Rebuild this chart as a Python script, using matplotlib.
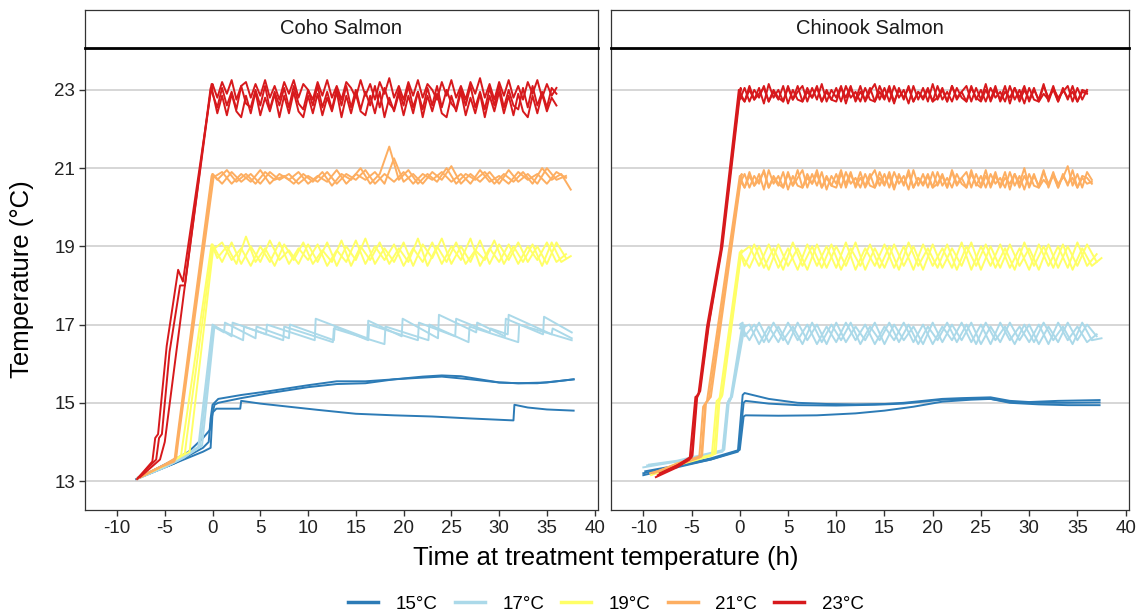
import matplotlib
matplotlib.use('Agg')
import matplotlib.pyplot as plt
from matplotlib.lines import Line2D

plt.rcParams['font.family'] = ['Liberation Sans', 'DejaVu Sans']

temps = ['15°C', '17°C', '19°C', '21°C', '23°C']
colors = ['#2c7bb6', '#abd9e9', '#ffff66', '#fdae61', '#d7191c']
species = ['Coho Salmon', 'Chinook Salmon']
yticks = [13, 15, 17, 19, 21, 23]
xticks = [-10, -5, 0, 5, 10, 15, 20, 25, 30, 35, 40]

# logging times on the plateau (h)
grid_a = [0, 1, 2, 3, 4, 5, 6, 7, 8, 9, 10, 11, 12, 13, 14, 15, 16, 17, 18, 19,
          20, 21, 22, 23, 24, 25, 26, 27, 28, 29, 30, 31, 32, 33, 34, 35, 36, 37]
grid_b = [0.5, 1.5, 2.5, 3.5, 4.5, 5.5, 6.5, 7.5, 8.5, 9.5, 10.5, 11.5, 12.5, 13.5,
          14.5, 15.5, 16.5, 17.5, 18.5, 19.5, 20.5, 21.5, 22.5, 23.5, 24.5, 25.5,
          26.5, 27.5, 28.5, 29.5, 30.5, 31.5, 32.5, 33.5, 34.5, 35.5, 36.5, 37.5]
grid_h = [0, 0.5, 1, 1.5, 2, 2.5, 3, 3.5, 4, 4.5, 5, 5.5, 6, 6.5, 7, 7.5, 8, 8.5, 9, 9.5,
          10, 10.5, 11, 11.5, 12, 12.5, 13, 13.5, 14, 14.5, 15, 15.5, 16, 16.5, 17, 17.5,
          18, 18.5, 19, 19.5, 20, 20.5, 21, 21.5, 22, 22.5, 23, 23.5, 24, 24.5, 25, 25.5,
          26, 26.5, 27, 27.5, 28, 28.5, 29, 29.5, 30, 30.5, 31, 31.5, 32, 32.5, 33, 33.5,
          34, 34.5, 35, 35.5, 36, 36.5, 37]

# ---------------- Coho ----------------
coho_15_t = [[-8.0, -6, -4, -2.5, -1.0, -0.4, -0.2, 0.0, 0.6, 3, 6, 10, 13, 16, 19, 22, 24, 26, 28, 30, 32, 34, 36, 37.8],
             [-7.8, -6, -4, -2.5, -1.0, -0.3, -0.1, 0.2, 0.6, 3, 6, 10, 13, 16, 19, 21, 24, 27, 30, 32, 35, 37.8],
             [-7.5, -5.5, -3.5, -2.0, -1.0, -0.2, 0.0, 0.4, 2.9, 3.0, 5, 8, 11, 15, 19, 23, 27, 31.5, 31.6, 33, 35, 37.8]]
coho_15_v = [[13.05, 13.25, 13.45, 13.65, 13.85, 14.0, 14.6, 14.95, 15.1, 15.2, 15.3, 15.45, 15.55, 15.55, 15.6, 15.67, 15.7, 15.68, 15.6, 15.52, 15.5, 15.5, 15.55, 15.6],
             [13.08, 13.3, 13.55, 13.75, 14.1, 14.3, 14.6, 14.95, 15.0, 15.12, 15.25, 15.4, 15.48, 15.5, 15.6, 15.63, 15.67, 15.6, 15.52, 15.5, 15.52, 15.6],
             [13.1, 13.3, 13.5, 13.65, 13.75, 13.85, 14.75, 14.85, 14.85, 15.05, 14.98, 14.9, 14.82, 14.72, 14.68, 14.65, 14.6, 14.55, 14.95, 14.88, 14.83, 14.8]]

coho_17_t = [[-7.9, -5, -3, -1.5, 0.0, 2.0, 2.1, 5.6, 5.7, 10.7, 10.8, 16.2, 16.3, 19.8, 19.9, 23.6, 23.7, 27.6, 27.7, 30.6, 30.7, 34.6, 34.7, 37.6],
             [-7.8, -5, -3, -1.3, 0.1, 1.2, 1.3, 4.5, 4.6, 8.0, 8.1, 12.7, 12.8, 16.3, 16.4, 21.5, 21.6, 25.4, 25.5, 29.0, 29.1, 30.9, 31.0, 35.5, 35.6, 37.6],
             [-7.6, -5, -3, -1.1, 0.2, 3.2, 3.3, 7.4, 7.5, 12.6, 12.7, 18.0, 18.1, 22.6, 22.7, 26.8, 26.9, 32.0, 32.1, 37.6]]
coho_17_v = [[13.05, 13.35, 13.6, 13.85, 17.0, 16.7, 17.05, 16.75, 17.0, 16.6, 17.15, 16.65, 17.1, 16.7, 17.15, 16.65, 17.25, 16.8, 17.05, 16.7, 17.15, 16.75, 17.2, 16.8],
             [13.1, 13.4, 13.65, 13.9, 16.95, 16.8, 17.05, 16.65, 16.95, 16.65, 17.0, 16.6, 16.95, 16.6, 17.0, 16.6, 17.05, 16.7, 17.15, 16.8, 16.9, 16.75, 17.25, 16.75, 16.9, 16.65],
             [13.1, 13.35, 13.6, 13.9, 16.95, 16.6, 16.95, 16.6, 16.95, 16.55, 16.9, 16.5, 16.95, 16.6, 17.0, 16.55, 16.95, 16.55, 17.0, 16.6]]

coho_19_ramp_t = [[-7.8, -5, -3.3, -3.1, -0.1], [-7.7, -5, -2.9, -2.7, 0.0], [-7.6, -5, -2.4, -2.2, 0.1]]
coho_19_ramp_v = [[13.08, 13.4, 13.65, 14.0, 19.05], [13.1, 13.4, 13.7, 14.1, 19.0], [13.1, 13.4, 13.75, 14.2, 19.0]]
coho_19_plat = [
    [19.05, 18.6, 19.1, 18.55, 19.0, 18.6, 19.15, 18.65, 18.9, 18.55, 19.05, 18.6, 19.1, 18.5, 19.0, 18.65, 19.2, 18.55, 18.95,
     18.6, 19.1, 18.5, 19.05, 18.7, 19.2, 18.55, 19.0, 18.6, 19.15, 18.55, 19.05, 18.65, 19.1, 18.6, 19.0, 18.55, 19.1, 18.7],
    [18.7, 19.0, 18.55, 19.25, 18.6, 18.95, 18.5, 19.05, 18.65, 19.1, 18.55, 18.9, 18.6, 19.15, 18.5, 19.0, 18.65, 19.1, 18.55,
     18.95, 18.6, 19.2, 18.5, 19.0, 18.6, 19.1, 18.55, 18.9, 18.65, 19.15, 18.55, 19.0, 18.6, 19.05, 18.5, 19.1, 18.6, 18.75],
    [18.9, 19.1, 18.65, 18.95, 18.5, 19.0, 18.6, 19.1, 18.55, 18.95, 18.65, 19.05, 18.5, 18.9, 18.6, 19.15, 18.55, 19.0, 18.65,
     19.05, 18.5, 18.95, 18.6, 19.1, 18.55, 19.0, 18.65, 19.2, 18.5, 18.95, 18.6, 19.05, 18.55, 19.0, 18.65, 19.1, 18.6, 18.8]]

coho_21_ramp_t = [[-7.9, -6, -4.0, -3.8, -2.0, -0.1], [-7.7, -6, -3.9, -3.7, -1.9, 0.0], [-7.5, -5.5, -3.8, -3.6, -1.8, 0.1]]
coho_21_ramp_v = [[13.05, 13.3, 13.5, 13.9, 17.3, 20.8], [13.1, 13.3, 13.55, 13.95, 17.3, 20.85], [13.1, 13.35, 13.6, 14.0, 17.3, 20.75]]
coho_21_plat = [
    [20.85, 20.6, 20.9, 20.65, 20.85, 20.6, 20.9, 20.7, 20.85, 20.6, 20.8, 20.65, 20.9, 20.6, 20.85, 20.7, 20.95, 20.6, 20.85,
     20.65, 20.9, 20.6, 20.85, 20.7, 20.9, 20.65, 20.85, 20.6, 20.95, 20.65, 20.8, 20.6, 20.9, 20.7, 20.85, 20.6, 20.9, 20.75],
    [20.7, 20.95, 20.65, 20.85, 20.6, 20.9, 20.7, 20.8, 20.6, 20.85, 20.65, 20.9, 20.55, 20.85, 20.7, 21.0, 20.6, 20.85, 21.55,
     20.7, 20.95, 20.6, 20.85, 20.65, 21.0, 20.6, 20.85, 20.7, 20.9, 20.6, 20.85, 20.65, 20.9, 20.6, 21.0, 20.7, 20.85, 20.45],
    [20.75, 20.9, 20.6, 20.85, 20.65, 20.95, 20.6, 20.85, 20.7, 20.9, 20.6, 20.8, 20.65, 20.95, 20.6, 20.85, 20.7, 20.9, 20.6,
     21.25, 20.65, 20.85, 20.6, 20.9, 20.7, 21.05, 20.6, 20.85, 20.65, 20.9, 20.6, 20.95, 20.65, 20.85, 20.6, 21.0, 20.7, 20.8]]

coho_23_ramp_t = [[-7.9, -6.3, -6.0, -5.7, -4.8, -3.6, -3.1, -0.1],
                  [-7.8, -5.9, -5.6, -5.3, -4.5, -3.4, -2.9, -0.2],
                  [-7.6, -5.5, -5.0, -3.0, -0.1]]
coho_23_ramp_v = [[13.05, 13.5, 14.1, 14.2, 16.45, 18.4, 18.1, 23.1],
                  [13.08, 13.55, 14.1, 14.2, 16.3, 18.0, 18.0, 23.05],
                  [13.1, 13.55, 14.0, 17.8, 23.15]]
coho_23_plat = [
    [23.15, 22.8, 23.2, 22.9, 23.25, 22.75, 23.1, 23.2, 22.8, 23.15,
     22.85, 23.25, 22.8, 23.1, 22.75, 23.2, 22.9, 23.25, 22.8, 23.15,
     23.0, 22.75, 23.2, 22.85, 23.25, 22.8, 23.1, 22.75, 23.2, 23.05,
     22.8, 23.25, 22.85, 23.15, 22.75, 23.2, 22.9, 23.3, 22.8, 23.1,
     22.75, 23.2, 22.85, 23.25, 22.8, 23.15, 23.0, 22.75, 23.2, 22.85,
     23.25, 22.8, 23.1, 22.75, 23.2, 22.9, 23.3, 22.8, 23.15, 22.75,
     23.2, 22.85, 23.25, 22.8, 23.1, 22.75, 23.2, 22.9, 23.25, 22.8,
     23.15, 22.85, 23.05],
    [22.9, 22.55, 23.05, 22.6, 22.95, 22.5, 23.1, 22.65, 22.55, 23.0,
     22.6, 23.1, 22.5, 22.95, 22.6, 23.05, 22.55, 23.1, 22.65, 22.5,
     23.0, 22.6, 23.1, 22.55, 22.95, 22.5, 23.05, 22.6, 23.1, 22.55,
     23.0, 22.5, 22.95, 22.6, 23.1, 22.55, 23.05, 22.65, 22.5, 23.0,
     22.6, 23.1, 22.55, 22.95, 22.5, 23.05, 22.6, 23.1, 22.55, 23.0,
     22.65, 22.5, 23.05, 22.6, 23.1, 22.55, 22.95, 22.5, 23.05, 22.6,
     23.1, 22.55, 23.0, 22.6, 22.5, 23.05, 22.55, 23.1, 22.6, 22.95,
     22.55, 23.05, 22.9],
    [22.95, 22.4, 22.85, 22.35, 22.9, 22.45, 22.3, 22.85, 22.4, 22.95,
     22.35, 22.8, 22.45, 22.9, 22.3, 22.85, 22.4, 22.95, 22.45, 22.3,
     22.85, 22.4, 22.9, 22.35, 22.8, 22.45, 22.95, 22.3, 22.85, 22.4,
     22.9, 22.45, 22.35, 22.85, 22.4, 22.95, 22.3, 22.8, 22.45, 22.9,
     22.35, 22.85, 22.4, 22.95, 22.3, 22.85, 22.45, 22.9, 22.4, 22.3,
     22.85, 22.45, 22.95, 22.35, 22.8, 22.4, 22.9, 22.3, 22.85, 22.45,
     22.95, 22.4, 22.85, 22.35, 22.9, 22.45, 22.3, 22.85, 22.4, 22.9,
     22.45, 22.8, 22.6]]

# ---------------- Chinook ----------------
chin_15_t = [[-10.0, -6, -3, -0.2, 0.3, 0.5, 3, 6, 9, 12, 15, 17, 19, 21, 23, 26, 28, 30, 33, 37.3],
             [-10.0, -6, -3, -0.1, 0.4, 0.6, 3, 6, 10, 14, 17, 19, 21, 24, 26, 28, 31, 34, 37.3],
             [-9.8, -6, -3, 0.0, 0.4, 0.6, 4, 8, 12, 15, 18, 21, 24, 26, 28, 31, 34, 37.3]]
chin_15_v = [[13.2, 13.4, 13.55, 13.75, 15.2, 15.25, 15.1, 15.0, 14.97, 14.96, 14.97, 15.0, 15.05, 15.1, 15.12, 15.14, 15.05, 15.02, 15.05, 15.07],
             [13.15, 13.38, 13.55, 13.78, 15.0, 15.05, 14.98, 14.94, 14.93, 14.95, 14.98, 15.03, 15.08, 15.1, 15.1, 15.02, 15.0, 15.0, 15.01],
             [13.25, 13.42, 13.58, 13.8, 14.65, 14.68, 14.67, 14.68, 14.73, 14.8, 14.9, 15.03, 15.08, 15.1, 15.0, 14.96, 14.94, 14.94]]

chin_17_ramp_t = [[-10.0, -6.5, -1.8, -1.3, -1.0, 0.3], [-9.6, -6.5, -1.7, -1.2, -0.9, 0.4], [-9.4, -6.5, -1.6, -1.1, -0.8, 0.5]]
chin_17_ramp_v = [[13.35, 13.5, 13.75, 15.0, 15.05, 17.05], [13.4, 13.5, 13.78, 15.05, 15.1, 17.0], [13.42, 13.52, 13.8, 15.1, 15.15, 16.95]]
chin_17_plat = [
    [17.0, 16.6, 17.05, 16.55, 16.95, 16.5, 17.05, 16.6, 17.0, 16.5, 17.05, 16.55, 16.95, 16.6, 17.05, 16.5, 17.0, 16.6, 16.95,
     16.5, 17.05, 16.55, 17.0, 16.6, 17.05, 16.5, 16.95, 16.55, 17.05, 16.6, 17.0, 16.5, 16.95, 16.55, 17.05, 16.6, 17.0, 16.7],
    [16.7, 17.0, 16.55, 17.05, 16.6, 16.95, 16.5, 17.05, 16.55, 17.0, 16.6, 17.05, 16.5, 16.95, 16.6, 17.05, 16.55, 17.0, 16.5,
     16.95, 16.6, 17.05, 16.55, 17.0, 16.5, 17.05, 16.6, 16.95, 16.5, 17.0, 16.55, 17.05, 16.6, 16.95, 16.5, 17.05, 16.6, 16.65],
    [16.9, 17.0, 16.5, 16.95, 16.55, 17.05, 16.6, 17.0, 16.5, 16.95, 16.55, 17.05, 16.6, 17.0, 16.5, 16.95, 16.6, 17.05, 16.55,
     17.0, 16.5, 16.95, 16.6, 17.05, 16.55, 17.0, 16.5, 17.05, 16.6, 16.95, 16.55, 17.0, 16.5, 17.05, 16.6, 16.95, 16.55, 16.75]]

chin_19_ramp_t = [[-9.2, -6.5, -2.9, -2.4, -2.1, 0.0], [-9.0, -6.5, -2.7, -2.2, -1.9, 0.1], [-8.8, -6.5, -2.5, -2.1, -1.8, 0.2]]
chin_19_ramp_v = [[13.15, 13.4, 13.65, 15.05, 15.1, 18.85], [13.18, 13.42, 13.68, 15.1, 15.15, 18.8], [13.2, 13.45, 13.7, 15.05, 15.2, 18.9]]
chin_19_plat = [
    [18.85, 18.45, 19.0, 18.4, 19.05, 18.5, 18.95, 18.4, 19.05, 18.45, 19.0, 18.5, 19.1, 18.4, 18.95, 18.45, 19.05, 18.5, 19.0,
     18.4, 19.05, 18.45, 18.95, 18.5, 19.1, 18.4, 19.0, 18.45, 19.05, 18.5, 18.95, 18.4, 19.05, 18.45, 19.0, 18.5, 19.05, 18.6],
    [18.5, 19.05, 18.45, 18.95, 18.4, 19.1, 18.5, 19.0, 18.45, 19.05, 18.4, 18.95, 18.5, 19.05, 18.45, 19.0, 18.4, 19.1, 18.5,
     18.95, 18.45, 19.05, 18.4, 19.0, 18.5, 19.05, 18.45, 18.95, 18.4, 19.1, 18.5, 19.0, 18.45, 19.05, 18.4, 18.95, 18.5, 18.7],
    [18.8, 19.0, 18.5, 19.05, 18.45, 18.95, 18.4, 19.05, 18.5, 19.0, 18.45, 19.1, 18.4, 18.95, 18.5, 19.05, 18.45, 19.0, 18.4,
     19.05, 18.5, 18.95, 18.45, 19.1, 18.4, 19.0, 18.5, 19.05, 18.45, 18.95, 18.4, 19.05, 18.5, 19.0, 18.45, 19.1, 18.5, 18.8]]

chin_21_ramp_t = [[-9.3, -6.5, -4.2, -3.8, -3.4, 0.0], [-9.0, -6.5, -4.0, -3.6, -3.2, 0.1], [-8.8, -6.5, -3.9, -3.5, -3.0, 0.2]]
chin_21_ramp_v = [[13.2, 13.4, 13.6, 14.9, 15.05, 20.8], [13.2, 13.42, 13.62, 14.95, 15.1, 20.75], [13.22, 13.45, 13.65, 15.0, 15.15, 20.85]]
chin_21_plat = [
    [20.8, 20.5, 20.9, 20.55, 20.85, 20.45, 20.95, 20.6, 20.8, 20.5,
     20.9, 20.55, 20.75, 20.95, 20.5, 20.85, 20.55, 20.9, 20.45, 20.8,
     20.6, 20.95, 20.5, 20.85, 20.55, 20.9, 20.5, 20.75, 20.95, 20.55,
     20.85, 20.5, 20.9, 20.6, 20.8, 20.45, 20.95, 20.55, 20.85, 20.5,
     20.9, 20.55, 20.8, 20.5, 20.95, 20.6, 20.75, 20.9, 20.5, 20.85,
     20.55, 20.95, 20.5, 20.8, 20.55, 20.9, 20.45, 20.85, 20.6, 21.0,
     20.5, 20.8, 20.55, 20.95, 20.5, 20.85, 20.6, 20.75, 21.05, 20.55,
     20.85, 20.5, 20.9, 20.7],
    [20.6, 20.85, 20.5, 20.8, 20.6, 20.95, 20.5, 20.75, 20.55, 20.9,
     20.45, 20.8, 20.55, 20.5, 20.85, 20.6, 20.95, 20.5, 20.75, 20.55,
     20.85, 20.5, 20.9, 20.6, 20.75, 20.5, 20.85, 20.55, 20.5, 20.9,
     20.6, 20.8, 20.45, 20.85, 20.55, 20.95, 20.5, 20.75, 20.6, 20.85,
     20.5, 20.9, 20.55, 20.75, 20.5, 20.85, 20.6, 20.5, 20.95, 20.55,
     20.8, 20.5, 20.85, 20.6, 20.75, 20.5, 20.9, 20.55, 20.8, 20.45,
     20.85, 20.55, 20.5, 20.9, 20.6, 20.8, 20.5, 20.85, 20.55, 20.95,
     20.5, 20.75, 20.6, 20.65],
    [20.7, 20.5, 20.8, 20.55, 20.7, 20.9, 20.5, 20.8, 20.6, 20.5,
     20.85, 20.55, 20.95, 20.5, 20.75, 20.6, 20.85, 20.5, 20.8, 20.55,
     20.5, 20.85, 20.6, 20.9, 20.5, 20.75, 20.55, 20.85, 20.5, 20.75,
     20.55, 20.9, 20.5, 20.8, 20.6, 20.85, 20.5, 20.75, 20.55, 20.8,
     20.5, 20.6, 20.85, 20.5, 20.9, 20.55, 20.75, 20.5, 20.85, 20.6,
     20.5, 20.8, 20.55, 20.9, 20.5, 20.75, 20.6, 20.85, 20.5, 20.8,
     20.55, 20.85, 20.5, 20.7, 20.55, 20.9, 20.5, 20.8, 20.6, 20.75,
     20.5, 20.8, 20.75, 20.6]]

chin_23_ramp_t = [[-8.7, -6.5, -5.2, -4.6, -4.3, -3.4, -2.0, -0.1],
                  [-8.5, -6.5, -5.0, -4.5, -4.2, -3.3, -1.9, 0.0],
                  [-8.3, -6.5, -4.9, -4.4, -4.1, -3.2, -1.8, 0.1]]
chin_23_ramp_v = [[13.1, 13.35, 13.55, 15.15, 15.2, 16.95, 18.9, 23.0],
                  [13.15, 13.4, 13.6, 15.1, 15.25, 16.9, 18.95, 22.95],
                  [13.2, 13.4, 13.65, 15.2, 15.3, 17.0, 19.0, 23.05]]
chin_23_plat = [
    [22.95, 22.7, 23.1, 22.75, 23.05, 22.65, 23.15, 22.8, 23.0, 22.7,
     23.1, 22.75, 22.95, 23.1, 22.7, 23.05, 22.75, 23.15, 22.7, 23.0,
     22.8, 23.1, 22.65, 23.05, 22.75, 23.1, 22.7, 22.95, 23.15, 22.75,
     23.05, 22.7, 23.1, 22.8, 23.0, 22.65, 23.1, 22.75, 23.05, 22.7,
     23.15, 22.75, 23.0, 22.7, 23.1, 22.8, 22.95, 23.1, 22.7, 23.05,
     22.75, 23.15, 22.7, 23.0, 22.75, 23.1, 22.65, 23.05, 22.8, 23.1,
     22.7, 23.0, 22.75, 23.15, 22.7, 23.05, 22.8, 22.95, 23.1, 22.7,
     23.05, 22.75, 23.0],
    [22.75, 23.05, 22.7, 23.0, 22.8, 23.1, 22.7, 22.95, 22.75, 23.1,
     22.65, 23.0, 22.75, 22.7, 23.05, 22.8, 23.1, 22.7, 22.95, 22.75,
     23.05, 22.7, 23.1, 22.8, 22.95, 22.7, 23.05, 22.75, 22.7, 23.1,
     22.8, 23.0, 22.65, 23.05, 22.75, 23.1, 22.7, 22.95, 22.8, 23.05,
     22.7, 23.1, 22.75, 22.95, 22.7, 23.05, 22.8, 22.7, 23.1, 22.75,
     23.0, 22.7, 23.05, 22.8, 22.95, 22.7, 23.1, 22.75, 23.0, 22.65,
     23.05, 22.75, 22.7, 23.1, 22.8, 23.0, 22.7, 23.05, 22.75, 23.1,
     22.7, 22.95, 22.9],
    [22.85, 22.7, 23.0, 22.75, 22.9, 23.05, 22.7, 23.0, 22.8, 22.7,
     23.05, 22.75, 23.1, 22.7, 22.95, 22.8, 23.05, 22.7, 23.0, 22.75,
     22.7, 23.05, 22.8, 23.1, 22.7, 22.95, 22.75, 23.05, 22.7, 22.95,
     22.75, 23.1, 22.7, 23.0, 22.8, 23.05, 22.7, 22.95, 22.75, 23.0,
     22.7, 22.8, 23.05, 22.7, 23.1, 22.75, 22.95, 22.7, 23.05, 22.8,
     22.7, 23.0, 22.75, 23.1, 22.7, 22.95, 22.8, 23.05, 22.7, 23.0,
     22.75, 23.05, 22.7, 22.9, 22.75, 23.1, 22.7, 23.0, 22.8, 22.95,
     22.7, 23.0, 22.95]]


def plateau_series(ramp_t, ramp_v, plat, grids):
    out = []
    for rt, rv, pv, g in zip(ramp_t, ramp_v, plat, grids):
        out.append((rt + g[:len(pv)], rv + pv))
    return out


abab = [grid_a, grid_b, grid_a]
hhh = [grid_h, grid_h, grid_h]
panels = {
    'Coho Salmon': [list(zip(coho_15_t, coho_15_v)),
                    list(zip(coho_17_t, coho_17_v)),
                    plateau_series(coho_19_ramp_t, coho_19_ramp_v, coho_19_plat, abab),
                    plateau_series(coho_21_ramp_t, coho_21_ramp_v, coho_21_plat, abab),
                    plateau_series(coho_23_ramp_t, coho_23_ramp_v, coho_23_plat, hhh)],
    'Chinook Salmon': [list(zip(chin_15_t, chin_15_v)),
                       plateau_series(chin_17_ramp_t, chin_17_ramp_v, chin_17_plat, abab),
                       plateau_series(chin_19_ramp_t, chin_19_ramp_v, chin_19_plat, abab),
                       plateau_series(chin_21_ramp_t, chin_21_ramp_v, chin_21_plat, hhh),
                       plateau_series(chin_23_ramp_t, chin_23_ramp_v, chin_23_plat, hhh)]}

W, H = 1138, 615
fig = plt.figure(figsize=(W / 100, H / 100), dpi=100)
boxes = [(85, 598), (611, 1129)]
top, bot, strip_top = 48, 510, 10

for k, (name, (x0, x1)) in enumerate(zip(species, boxes)):
    ax = fig.add_axes([x0 / W, 1 - bot / H, (x1 - x0) / W, (bot - top) / H])
    for yt in yticks:
        ax.axhline(yt, color='#d3d3d3', lw=1.3, zorder=0)
    for c, reps in zip(colors, panels[name]):
        for t, v in reps:
            ax.plot(t, v, color=c, lw=1.4, solid_joinstyle='round')
    ax.set_xlim(-13.35, 40.35)
    ax.set_ylim(12.26, 24.07)
    ax.set_xticks(xticks)
    ax.set_xticklabels([str(x) for x in xticks])
    ax.set_yticks(yticks)
    ax.tick_params(length=4, width=1, color='#333333', labelsize=13.5, labelcolor='#222222', pad=3)
    if k == 1:
        ax.tick_params(axis='y', left=False, labelleft=False)
    for s in ax.spines.values():
        s.set_color('#333333')
        s.set_linewidth(0.9)

    sx = fig.add_axes([x0 / W, 1 - top / H, (x1 - x0) / W, (top - strip_top) / H])
    sx.set_xticks([])
    sx.set_yticks([])
    for s in sx.spines.values():
        s.set_color('#333333')
        s.set_linewidth(0.9)
    sx.spines['bottom'].set_linewidth(2.0)
    sx.spines['bottom'].set_color('black')
    sx.text(0.5, 0.5, name, ha='center', va='center', fontsize=14.5, color='#1a1a1a',
            transform=sx.transAxes)

fig.text(606 / W, 1 - 558 / H, 'Time at treatment temperature (h)', ha='center', va='center',
         fontsize=18.5, color='black')
fig.text(22 / W, 1 - 279 / H, 'Temperature (°C)', ha='center', va='center', rotation=90,
         fontsize=18.5, color='black')

handles = [Line2D([0], [0], color=c, lw=2.5) for c in colors]
fig.legend(handles, temps, loc='center', bbox_to_anchor=(606 / W, 1 - 604 / H), ncol=5,
           frameon=False, fontsize=13.5, handlelength=1.6, handletextpad=0.95, columnspacing=0.9)

fig.savefig('out.png', dpi=100)
